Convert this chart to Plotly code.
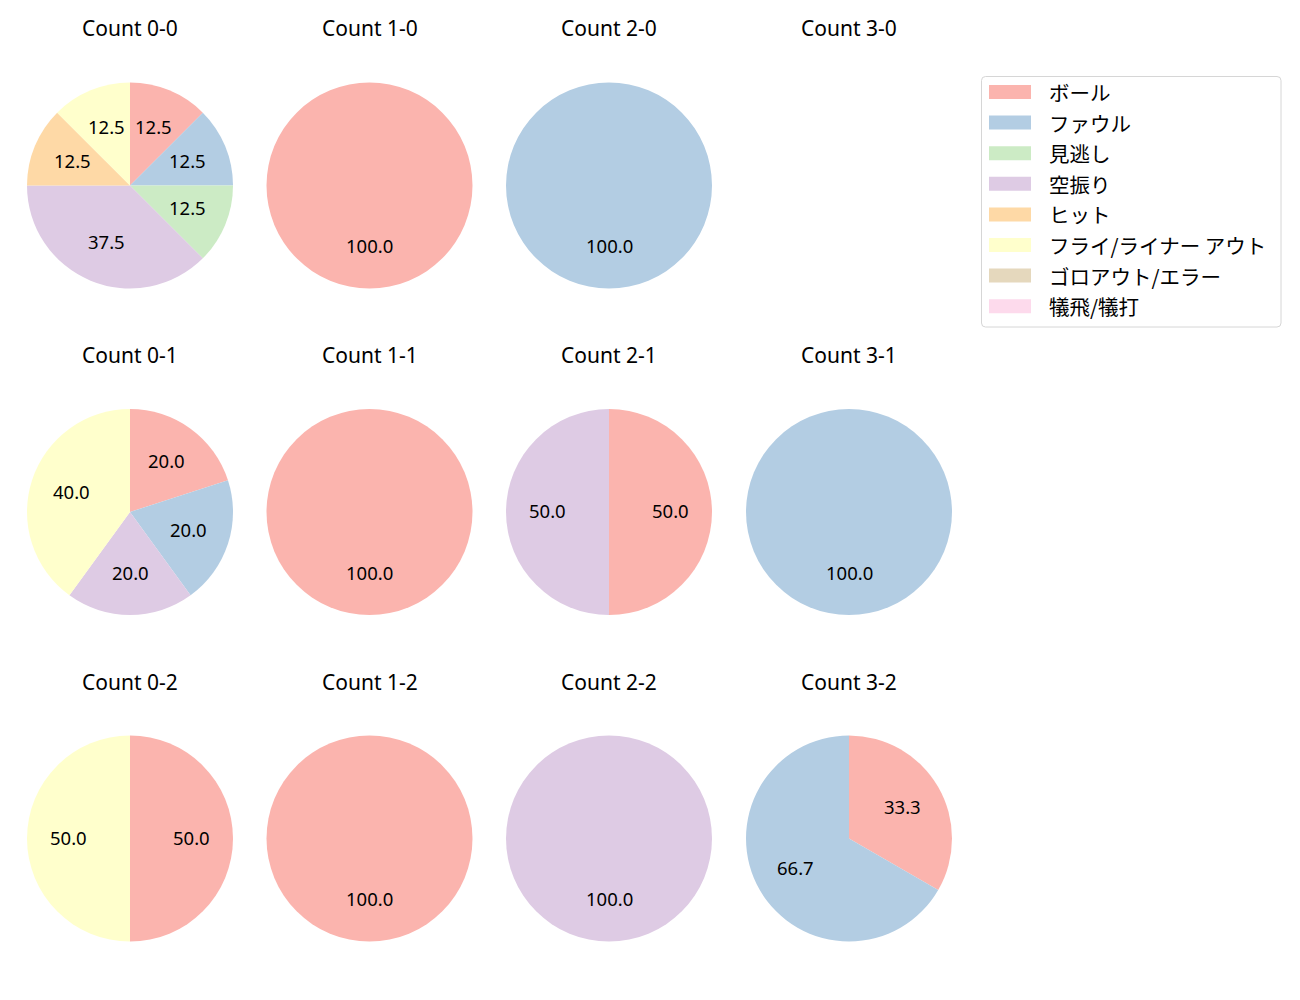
import math
import plotly.graph_objects as go

labels = ["ボール", "ファウル", "見逃し", "空振り", "ヒット",
          "フライ/ライナー アウト", "ゴロアウト/エラー", "犠飛/犠打"]
colors = ["#fbb4ae", "#b3cde3", "#ccebc5", "#decbe4", "#fed9a6",
          "#ffffcc", "#e5d8bd", "#fddaec"]

titles = ["Count 0-0", "Count 1-0", "Count 2-0", "Count 3-0",
          "Count 0-1", "Count 1-1", "Count 2-1", "Count 3-1",
          "Count 0-2", "Count 1-2", "Count 2-2", "Count 3-2"]

# counts per category for each ball-strike count (same order as labels)
c00 = [1, 1, 1, 3, 1, 1, 0, 0]
c10 = [1, 0, 0, 0, 0, 0, 0, 0]
c20 = [0, 1, 0, 0, 0, 0, 0, 0]
c30 = [0, 0, 0, 0, 0, 0, 0, 0]
c01 = [1, 1, 0, 1, 0, 2, 0, 0]
c11 = [1, 0, 0, 0, 0, 0, 0, 0]
c21 = [1, 0, 0, 1, 0, 0, 0, 0]
c31 = [0, 1, 0, 0, 0, 0, 0, 0]
c02 = [1, 0, 0, 0, 0, 1, 0, 0]
c12 = [1, 0, 0, 0, 0, 0, 0, 0]
c22 = [0, 0, 0, 1, 0, 0, 0, 0]
c32 = [1, 2, 0, 0, 0, 0, 0, 0]
all_counts = [c00, c10, c20, c30, c01, c11, c21, c31, c02, c12, c22, c32]

W, H = 1300, 1000
col_cx = [130, 369.5, 609, 849]
row_cy = [185.5, 512, 838.5]
R = 103
LATIN = "Noto Sans, DejaVu Sans, sans-serif"
CJK = "Noto Sans CJK JP, sans-serif"

fig = go.Figure()
annotations = []

for idx, vals in enumerate(all_counts):
    r, c = divmod(idx, 4)
    cx, cy = col_cx[c], row_cy[r]
    x0, x1 = (cx - R) / W, (cx + R) / W
    y0, y1 = 1 - (cy + R) / H, 1 - (cy - R) / H
    annotations.append(dict(text=titles[idx], x=cx / W, y=1 - (cy - 157) / H,
                            xref="paper", yref="paper", showarrow=False,
                            font=dict(size=21, color="#000", family=LATIN),
                            xanchor="center", yanchor="middle"))
    total = sum(vals)
    if total == 0:
        continue
    fig.add_trace(go.Pie(
        labels=labels, values=vals, sort=False, direction="clockwise",
        rotation=0, marker=dict(colors=colors, line=dict(width=0)),
        textinfo="none", showlegend=False, hoverinfo="label+percent",
        domain=dict(x=[x0, x1], y=[y0, y1])))
    cum = 0
    for v in vals:
        if v == 0:
            continue
        mid = (cum + v / 2) / total * 2 * math.pi
        cum += v
        tx = cx + 0.6 * R * math.sin(mid)
        ty = cy - 0.6 * R * math.cos(mid) - 1.5
        annotations.append(dict(text=f"{100 * v / total:.1f}", x=tx / W, y=1 - ty / H,
                                xref="paper", yref="paper", showarrow=False,
                                font=dict(size=18.5, color="#000", family=LATIN),
                                xanchor="center", yanchor="middle"))

def px(x, y):
    return f"{x / W},{1 - y / H}"

shapes = []
lx0, lx1, ly0, ly1, rad = 981.5, 1281, 76.5, 327, 4
path = (f"M {px(lx0+rad, ly0)} L {px(lx1-rad, ly0)} Q {px(lx1, ly0)} {px(lx1, ly0+rad)} "
        f"L {px(lx1, ly1-rad)} Q {px(lx1, ly1)} {px(lx1-rad, ly1)} L {px(lx0+rad, ly1)} "
        f"Q {px(lx0, ly1)} {px(lx0, ly1-rad)} L {px(lx0, ly0+rad)} Q {px(lx0, ly0)} {px(lx0+rad, ly0)} Z")
shapes.append(dict(type="path", path=path, xref="paper", yref="paper",
                   line=dict(color="#d6d6d6", width=1), fillcolor="rgba(255,255,255,0.8)"))
for i, (lab, col) in enumerate(zip(labels, colors)):
    yc = 92 + i * 30.6
    shapes.append(dict(type="rect", xref="paper", yref="paper",
                       x0=989 / W, x1=1031 / W, y0=1 - (yc + 7) / H, y1=1 - (yc - 7) / H,
                       fillcolor=col, line=dict(width=0)))
    annotations.append(dict(text=lab, x=1047 / W, y=1 - yc / H, xref="paper", yref="paper",
                            showarrow=False, xanchor="left", yanchor="middle",
                            font=dict(size=20.5, color="#000", family=CJK)))

fig.update_layout(width=W, height=H, margin=dict(l=0, r=0, t=0, b=0),
                  paper_bgcolor="white", plot_bgcolor="white",
                  annotations=annotations, shapes=shapes, showlegend=False)
fig.write_html("out.html")
